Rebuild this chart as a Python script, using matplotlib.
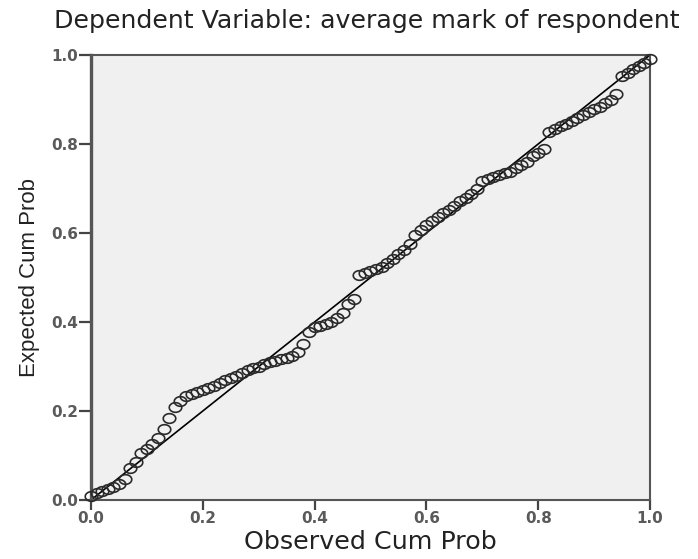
import matplotlib
matplotlib.use('Agg')
import matplotlib.pyplot as plt
from matplotlib.path import Path
import numpy as np

# observed vs expected cumulative probabilities
observed = [0.00, 0.01, 0.02, 0.03, 0.04, 0.05, 0.06, 0.07, 0.08, 0.09,
            0.10, 0.11, 0.12, 0.13, 0.14, 0.15, 0.16, 0.17, 0.18, 0.19,
            0.20, 0.21, 0.22, 0.23, 0.24, 0.25, 0.26, 0.27, 0.28, 0.29,
            0.30, 0.31, 0.32, 0.33, 0.34, 0.35, 0.36, 0.37, 0.38, 0.39,
            0.40, 0.41, 0.42, 0.43, 0.44, 0.45, 0.46, 0.47, 0.48, 0.49,
            0.50, 0.51, 0.52, 0.53, 0.54, 0.55, 0.56, 0.57, 0.58, 0.59,
            0.60, 0.61, 0.62, 0.63, 0.64, 0.65, 0.66, 0.67, 0.68, 0.69,
            0.70, 0.71, 0.72, 0.73, 0.74, 0.75, 0.76, 0.77, 0.78, 0.79,
            0.80, 0.81, 0.82, 0.83, 0.84, 0.85, 0.86, 0.87, 0.88, 0.89,
            0.90, 0.91, 0.92, 0.93, 0.94, 0.95, 0.96, 0.97, 0.98, 0.99,
            1.00]
expected = [0.008, 0.015, 0.020, 0.025, 0.030, 0.037, 0.048, 0.072, 0.085, 0.105,
            0.115, 0.125, 0.140, 0.160, 0.185, 0.210, 0.222, 0.233, 0.238, 0.242,
            0.247, 0.252, 0.256, 0.262, 0.270, 0.274, 0.278, 0.285, 0.292, 0.296,
            0.300, 0.305, 0.309, 0.313, 0.316, 0.320, 0.324, 0.332, 0.350, 0.378,
            0.388, 0.392, 0.396, 0.400, 0.408, 0.420, 0.440, 0.452, 0.505, 0.510,
            0.514, 0.518, 0.524, 0.533, 0.541, 0.552, 0.562, 0.575, 0.595, 0.607,
            0.618, 0.627, 0.635, 0.645, 0.652, 0.660, 0.672, 0.678, 0.688, 0.700,
            0.716, 0.722, 0.726, 0.730, 0.734, 0.738, 0.745, 0.752, 0.760, 0.772,
            0.780, 0.788, 0.828, 0.834, 0.840, 0.845, 0.852, 0.858, 0.865, 0.872,
            0.878, 0.884, 0.892, 0.900, 0.912, 0.952, 0.960, 0.968, 0.975, 0.982,
            0.990]
ref_line = [0.0, 1.0]
ticks = [0.0, 0.2, 0.4, 0.6, 0.8, 1.0]
tick_labels = ['0.0', '0.2', '0.4', '0.6', '0.8', '1.0']

title = 'Dependent Variable: average mark of respondent'
xlabel = 'Observed Cum Prob'
ylabel = 'Expected Cum Prob'

# the source image is stretched sideways, so the circles come out as wide ellipses
t = np.linspace(0, 2 * np.pi, 60)
ellipse = Path(np.column_stack([1.3 * np.cos(t), np.sin(t)]), closed=True)

fig = plt.figure(figsize=(6.98, 5.59), dpi=100)
ax = fig.add_axes([91 / 698, 59 / 559, 559 / 698, 445 / 559])
ax.set_facecolor('#f0f0f0')

ax.plot(ref_line, ref_line, color='black', linewidth=1.2, zorder=2)
ax.plot(observed, expected, linestyle='none', marker=ellipse, markersize=9,
        markerfacecolor='none', markeredgecolor='#2a2a2a', markeredgewidth=1.2,
        zorder=3, clip_on=False)

ax.set_xlim(0, 1)
ax.set_ylim(0, 1)
ax.set_xticks(ticks)
ax.set_yticks(ticks)
ax.set_xticklabels(tick_labels, fontsize=11, fontweight='bold', color='#5a5a5a')
ax.set_yticklabels(tick_labels, fontsize=11, fontweight='bold', color='#5a5a5a')
ax.tick_params(axis='x', length=7, width=1.6, color='#444444', pad=1)
ax.tick_params(axis='y', length=8.5, width=1.6, color='#444444', pad=1)

for side in ['top', 'right', 'bottom']:
    ax.spines[side].set_color('#555555')
    ax.spines[side].set_linewidth(1.5)
ax.spines['left'].set_color('#555555')
ax.spines['left'].set_linewidth(2.4)

ax.set_xlabel(xlabel, fontsize=18.3, color='#222222', labelpad=3)
ax.set_ylabel(ylabel, fontsize=16, color='#222222', labelpad=8,
              family='Liberation Sans')

fig.text(366.5 / 698, 1 - 28 / 559, title, ha='center', va='baseline',
         fontsize=18.2, color='#222222')

fig.savefig('out.png', dpi=100, facecolor='white')
